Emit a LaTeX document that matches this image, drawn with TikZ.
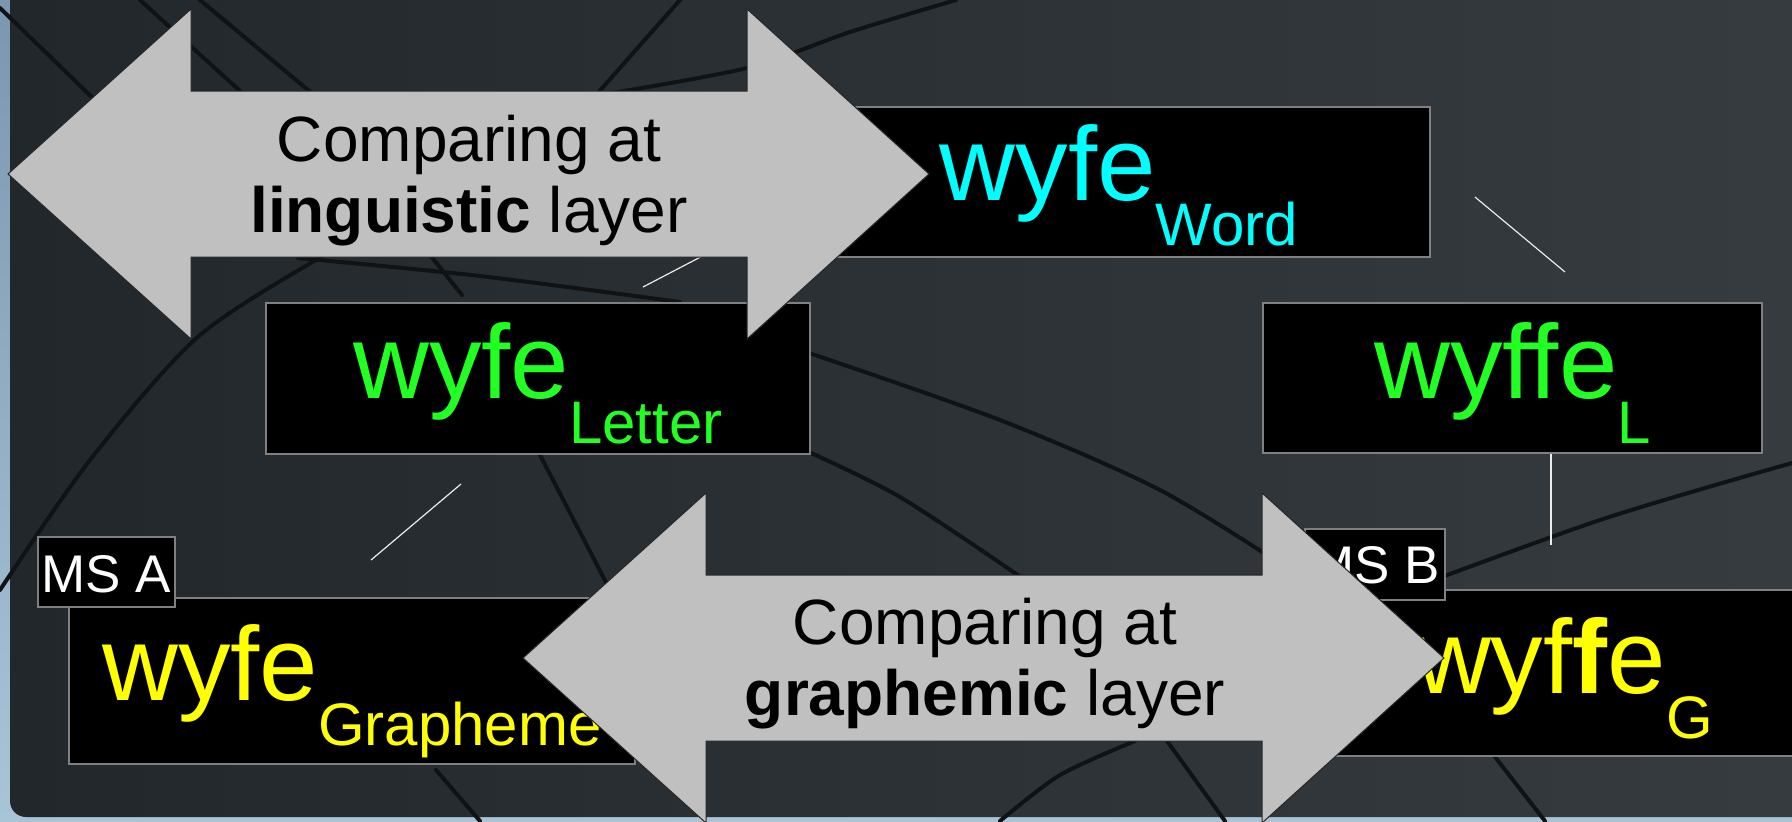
\documentclass[tikz,border=0pt]{standalone}
\usepackage{fontspec}
\setmainfont{Liberation Sans}
\usetikzlibrary{calc}

\definecolor{slateL}{HTML}{22272C}
\definecolor{slateR}{HTML}{373C40}
\definecolor{frameTop}{HTML}{7B97B0}
\definecolor{frameBot}{HTML}{A8C5D8}
\definecolor{crack}{HTML}{101316}
\definecolor{wordcyan}{HTML}{00FFFF}
\definecolor{lettergreen}{HTML}{22FF22}
\definecolor{graphyellow}{HTML}{FFFF00}
\definecolor{arrowgray}{HTML}{C0C0C0}
\definecolor{boxedge}{HTML}{808080}

\tikzset{
  layerbox/.style={draw=boxedge, fill=black, line width=0.6pt, inner sep=0pt,
    anchor=base, font=\fontsize{52.5}{52.5}\selectfont},
  msbox/.style={draw=boxedge, fill=black, line width=0.6pt, inner sep=0pt,
    anchor=base, text=white, font=\fontsize{26.5}{26.5}\selectfont},
  cmparrow/.style={fill=arrowgray, draw=black!85, line width=0.5pt},
  cmptext/.style={align=center, font=\fontsize{32}{35.5}\selectfont},
  treeedge/.style={draw=white!85!gray, line width=0.6pt},
  crackline/.style={draw=crack, line width=2pt, line cap=round},
}

% lowered layer name after a form
\newcommand{\layersub}[1]{\raisebox{-22.5pt}{\fontsize{30}{30}\selectfont #1}}

\begin{document}
\begin{tikzpicture}[x=0.5pt, y=-0.5pt]

\useasboundingbox (0,0) rectangle (1792,821);

% backdrop
\shade[top color=frameTop, bottom color=frameBot] (0,0) rectangle (1792,821);
\shade[left color=slateL, right color=slateR, rounded corners=8pt]
  (10,-60) -- (10,817) -- (1860,817) -- (1860,-60) -- cycle;

% cracks in the backdrop
\draw[crackline] (0,8) -- (100,105);
\draw[crackline] (140,0) -- (250,100);
\draw[crackline] (200,0) -- (320,100);
\draw[crackline] plot[smooth] coordinates {(956,0) (850,32) (747,68) (600,95)};
\draw[crackline] (680,0) -- (596,95);
\draw[crackline] plot[smooth] coordinates {(0,590) (90,460) (200,335) (330,252)};
\draw[crackline] plot[smooth] coordinates {(298,258) (480,276) (680,302)};
\draw[crackline] (430,255) -- (462,295);
\draw[crackline] plot[smooth] coordinates {(809,353) (1000,420) (1160,490) (1290,570)};
\draw[crackline] plot[smooth] coordinates {(800,448) (900,497) (1025,580)};
\draw[crackline] (540,455) -- (610,590);
\draw[crackline] (436,770) -- (480,821);
\draw[crackline] plot[smooth] coordinates {(1000,821) (1060,775) (1135,741)};
\draw[crackline] (1167,741) -- (1225,821);
\draw[crackline] (1495,757) -- (1545,821);
\draw[crackline] plot[smooth] coordinates {(1380,600) (1600,520) (1792,463)};

% tree edges
\coordinate (letter-up)  at (643,287);
\coordinate (word-low)   at (712,251);
\coordinate (word-right) at (1475,197);
\coordinate (wyffe-up)   at (1565,272);
\coordinate (letter-low) at (461,484);
\coordinate (graph-up)   at (371,560);
\coordinate (wyffe-low)  at (1551,454);
\coordinate (wyffeg-up)  at (1551,545);

\draw[treeedge] (letter-up) -- (word-low);
\draw[treeedge] (word-right) -- (wyffe-up);
\draw[treeedge] (letter-low) -- (graph-up);
\draw[treeedge] (wyffe-low) -- (wyffeg-up);

% forms on each layer
\node[layerbox, text=wordcyan, text height=46.5pt, text depth=28.5pt,
  minimum width=311pt] (word) at (1119,200) {wyfe\layersub{Word}};
\node[layerbox, text=lettergreen, text height=47.5pt, text depth=28pt,
  minimum width=272pt] (letter) at (538,398) {wyfe\layersub{Letter}};
\node[layerbox, text=lettergreen, text height=47.5pt, text depth=27.5pt,
  minimum width=249.5pt] (letterb) at (1512.5,398) {wyffe\layersub{L}};
\node[layerbox, text=graphyellow, text height=51pt, text depth=32pt,
  minimum width=283pt] (graph) at (352,700) {wyfe\layersub{Grapheme}};
\node[layerbox, text=graphyellow, text height=51.5pt, text depth=31.5pt,
  minimum width=244pt] (graphb) at (1564,693) {wyf\textbf{f}e\layersub{G}};

\node[msbox, text height=27.5pt, text depth=7.5pt, minimum width=68.5pt]
  (msa) at (106.5,592) {MS A};
\node[msbox, text height=27pt, text depth=8.5pt, minimum width=70pt]
  (msb) at (1375,583) {MS B};

% double arrows
\foreach \tx/\cy in {8/174, 523/658}
  \draw[cmparrow, shift={(\tx,\cy)}] (0,0) -- (183,-165) -- (183,-83)
    -- (739,-83) -- (739,-165) -- (921,0) -- (739,165) -- (739,83)
    -- (183,83) -- (183,165) -- cycle;

\node[cmptext] (lingcmp) at (469,181) {Comparing at\\\textbf{linguistic} layer};
\node[cmptext] (graphcmp) at (985,664) {Comparing at\\\textbf{graphemic} layer};

\end{tikzpicture}
\end{document}
